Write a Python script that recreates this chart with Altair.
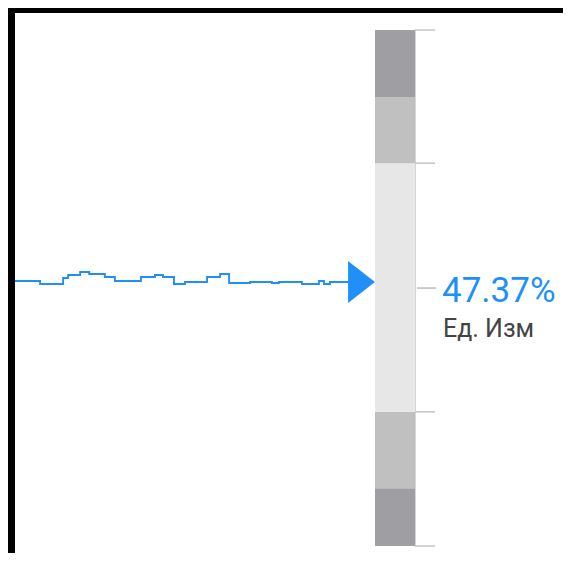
import altair as alt
import pandas as pd

# ---- data ----
step_x = [0, 7.5, 14.4, 15.9, 19.5, 22.2, 26.9, 29.9, 37.7, 41.9, 44.3, 47.6,
          50.9, 57.5, 61.4, 64.1, 70.4, 76.9, 79.0, 85.9, 91.0, 92.5, 94.3, 100]
step_y = [51.36, 50.78, 51.94, 52.52, 53.10, 52.71, 52.13, 51.36, 52.13, 52.52,
          52.13, 50.78, 51.16, 52.13, 52.71, 50.97, 51.16, 50.97, 51.16, 50.78,
          51.36, 50.78, 51.16, 51.16]
band_lo = [0, 11.2, 26, 74.2, 87]
band_hi = [11.2, 26, 74.2, 87, 100]
band_kind = ["dark", "mid", "light", "mid", "dark"]
tick_vals = [0, 26, 74.2, 100]
marker_val = [50]
value_label = ["47.37%"]
unit_label = ["Ед. Изм"]

W, H = 555, 545
xs = alt.Scale(domain=[-2.1, 164.07])
ys = alt.Scale(domain=[-1.35, 104.27])
BLUE = "#2090f8"

line_df = pd.DataFrame({"t": step_x, "v": step_y})
band_df = pd.DataFrame({"lo": band_lo, "hi": band_hi, "kind": band_kind})
tick_df = pd.DataFrame({"v": tick_vals})
mark_df = pd.DataFrame({"v": marker_val, "label": value_label, "unit": unit_label})
last_df = line_df.tail(1)

line = alt.Chart(line_df).mark_line(interpolate="step-after", color=BLUE, strokeWidth=1.9).encode(
    x=alt.X("t:Q", scale=xs, axis=None),
    y=alt.Y("v:Q", scale=ys, axis=None),
)

arrow = alt.Chart(last_df).mark_point(
    shape="M -0.64 -1 L 0.64 0 L -0.64 1 Z", filled=True, color=BLUE, opacity=1, size=1764
).encode(x=alt.value(353.5), y=alt.Y("v:Q", scale=ys, axis=None))

bands = alt.Chart(band_df).mark_rect().encode(
    x=alt.value(367), x2=alt.value(407),
    y=alt.Y("lo:Q", scale=ys, axis=None), y2="hi:Q",
    color=alt.Color("kind:N", scale=alt.Scale(domain=["dark", "mid", "light"],
                                              range=["#9f9ea3", "#c0c0c0", "#e7e7e7"]), legend=None),
)

spine = alt.Chart(pd.DataFrame({"lo": [0], "hi": [100]})).mark_rule(color="#d6d6d6", strokeWidth=1).encode(
    x=alt.value(407.5), y=alt.Y("lo:Q", scale=ys, axis=None), y2="hi:Q")

ticks = alt.Chart(tick_df).mark_rule(color="#c4c4c4", strokeWidth=1.5).encode(
    x=alt.value(407), x2=alt.value(427), y=alt.Y("v:Q", scale=ys, axis=None))

mtick = alt.Chart(mark_df).mark_rule(color="#9a9a9a", strokeWidth=1).encode(
    x=alt.value(409), x2=alt.value(428), y=alt.Y("v:Q", scale=ys, axis=None))

vtext = alt.Chart(mark_df).mark_text(align="left", baseline="alphabetic", dy=14, fontSize=35,
                                     font="Roboto", color=BLUE).encode(
    x=alt.value(434), y=alt.Y("v:Q", scale=ys, axis=None), text="label:N")

utext = alt.Chart(mark_df).mark_text(align="left", baseline="alphabetic", dy=49, fontSize=25,
                                     font="Roboto", color="#444444").encode(
    x=alt.value(435), y=alt.Y("v:Q", scale=ys, axis=None), text="unit:N")

frame_df = pd.DataFrame({"k": [0]})
fl = alt.Chart(frame_df).mark_rect(color="black").encode(
    x=alt.value(0), x2=alt.value(7), y=alt.value(0), y2=alt.value(H))
ft = alt.Chart(frame_df).mark_rect(color="black").encode(
    x=alt.value(0), x2=alt.value(W), y=alt.value(0), y2=alt.value(5))

chart = alt.layer(bands, spine, ticks, mtick, line, arrow, vtext, utext, fl, ft).properties(
    width=W, height=H, padding=0, autosize=alt.AutoSizeParams(type="none"), background="white"
).configure_view(stroke=None)

chart.save("out.html", embed_options={"renderer": "svg", "actions": False})
